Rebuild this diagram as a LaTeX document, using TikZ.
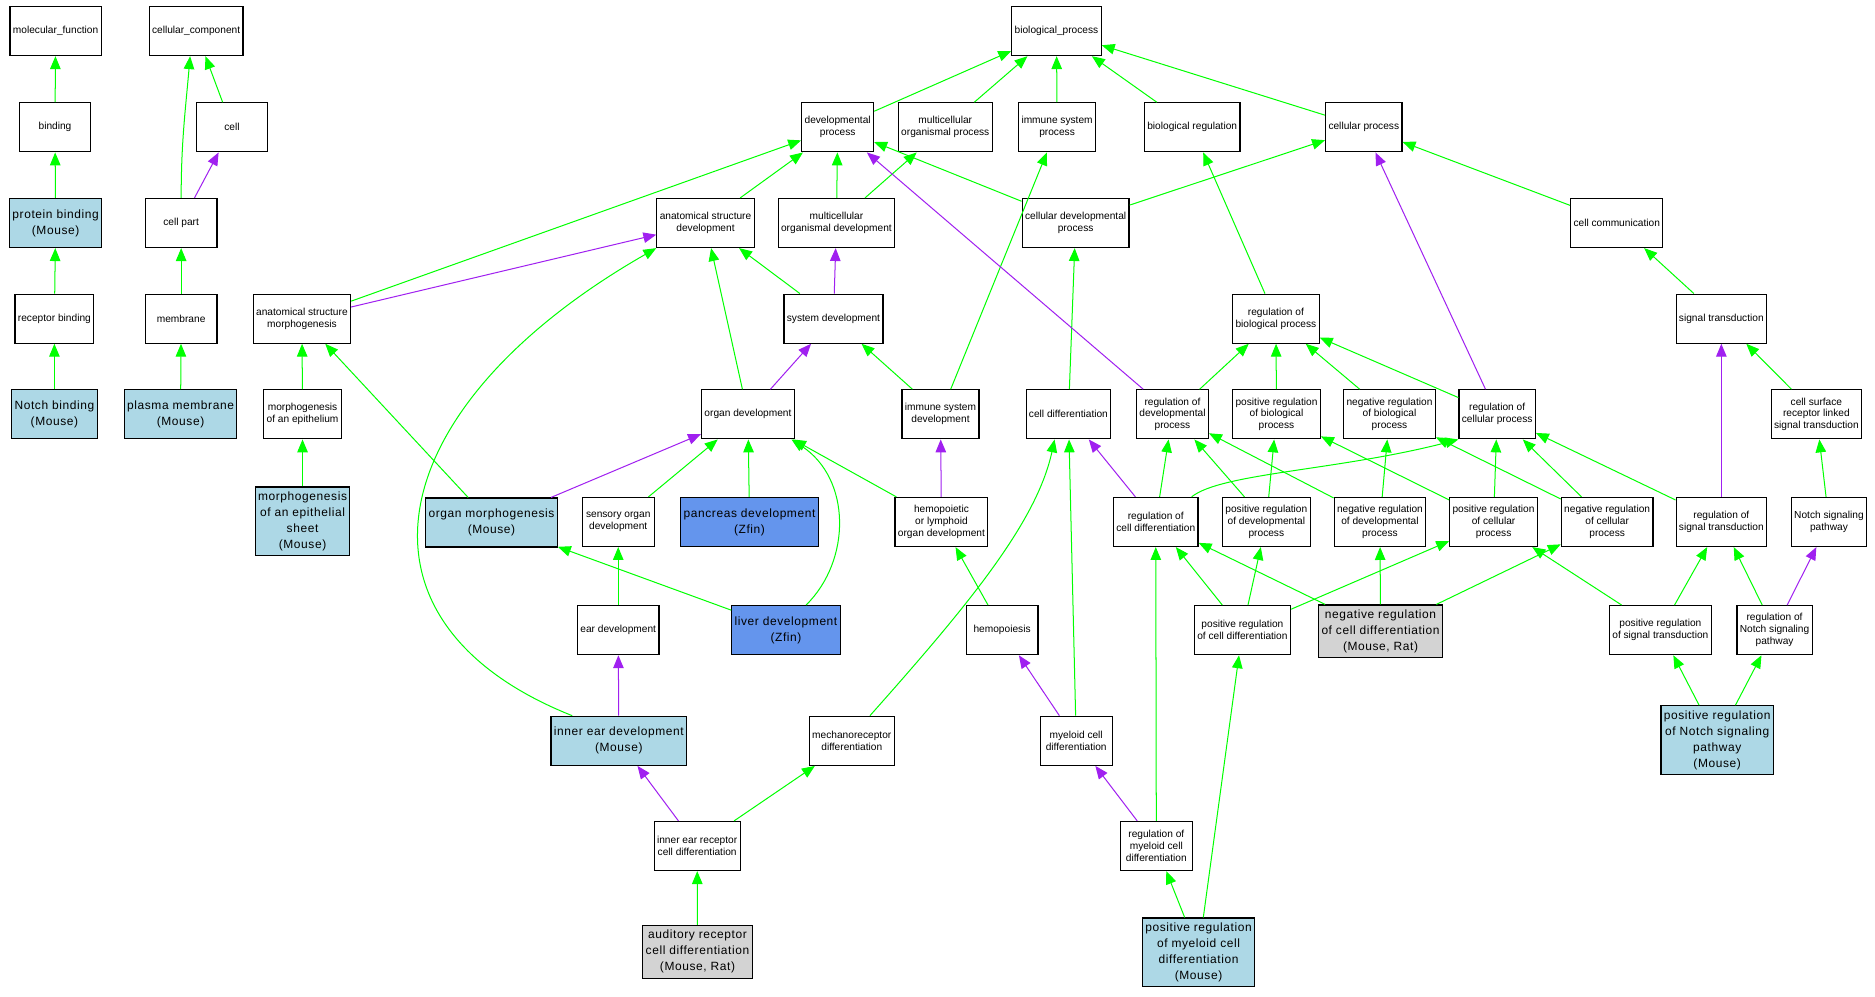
\documentclass[tikz,border=0pt]{standalone}
\usepackage{fontspec}
\setmainfont{Liberation Sans}
\newfontfamily\annfont[LetterSpace=5]{Liberation Sans}
\usetikzlibrary{arrows.meta}
\definecolor{isagreen}{rgb}{0,1,0}
\definecolor{partpurple}{RGB}{160,32,240}
\definecolor{mouseblue}{RGB}{173,216,230}
\definecolor{zfinblue}{RGB}{100,149,237}
\definecolor{ratgrey}{RGB}{211,211,211}

\begin{document}
\begin{tikzpicture}[x=0.5pt,y=-0.5pt,->,>={Triangle[length=5.4pt,width=4.4pt]},line width=0.42pt]
  \tikzstyle{term}=[rectangle,draw=black,line width=0.5pt,fill=white,align=center,inner xsep=1.2pt,inner ysep=1pt,minimum width=30pt,minimum height=20.5pt,font=\fontsize{4.25}{5}\selectfont]
  \tikzstyle{mouse}=[term,fill=mouseblue,inner ysep=2pt,font=\annfont\fontsize{5}{6.7}\selectfont]
  \tikzstyle{zfin}=[mouse,fill=zfinblue]
  \tikzstyle{mouserat}=[mouse,fill=ratgrey]
  \tikzstyle{isa}=[draw=isagreen]
  \tikzstyle{partof}=[draw=partpurple]
  \fill[white] (0,0) rectangle (1568,833);
  % row 0
  \node[term]     (MF) at (46.5, 26)     {molecular\_function};
  \node[term]     (CC) at (164, 26)      {cellular\_component};
  \node[term]     (BP) at (883.5, 26)    {biological\_process};
  % row 1
  \node[term]     (bind) at (46, 106.5)   {binding};
  \node[term]     (cell) at (194, 106.5)  {cell};
  \node[term]     (devp) at (700.5, 106.5) {developmental\\process};
  \node[term]     (mop) at (790.5, 106.5)  {multicellular\\organismal process};
  \node[term]     (isp) at (884, 106.5)    {immune system\\process};
  \node[term]     (breg) at (997, 106.5)   {biological regulation};
  \node[term]     (cellp) at (1140.5, 106.5) {cellular process};
  % row 2
  \node[mouse]    (pbind) at (46.5, 186.5) {protein binding\\(Mouse)};
  \node[term]     (cpart) at (151.5, 186.5) {cell part};
  \node[term]     (asd) at (590, 186.5)    {anatomical structure\\development};
  \node[term]     (mod) at (699.5, 186.5)  {multicellular\\organismal development};
  \node[term]     (cdp) at (899.5, 186.5)  {cellular developmental\\process};
  \node[term]     (ccom) at (1352, 186.5)  {cell communication};
  % row 3
  \node[term]     (rbind) at (45.5, 266.5) {receptor binding};
  \node[term]     (memb) at (151.5, 266.5) {membrane};
  \node[term]     (asm) at (252.5, 266.5)  {anatomical structure\\morphogenesis};
  \node[term]     (sysd) at (697, 266.5)   {system development};
  \node[term]     (rbp) at (1067, 266.5)   {regulation of\\biological process};
  \node[term]     (sigt) at (1439.5, 266.5) {signal transduction};
  % row 4
  \node[mouse]    (nbind) at (45.5, 346.5) {Notch binding\\(Mouse)};
  \node[mouse]    (pmem) at (151, 346.5)   {plasma membrane\\(Mouse)};
  \node[term]     (moe) at (253, 346.5)    {morphogenesis\\of an epithelium};
  \node[term]     (orgd) at (625.5, 346.5) {organ development};
  \node[term]     (isd) at (786.5, 346.5)  {immune system\\development};
  \node[term]     (celld) at (893.5, 346.5) {cell differentiation};
  \node[term]     (rdp) at (980.5, 346.5)  {regulation of\\developmental\\process};
  \node[term]     (prbp) at (1067.5, 346.5) {positive regulation\\of biological\\process};
  \node[term]     (nrbp) at (1162, 346.5)  {negative regulation\\of biological\\process};
  \node[term]     (rcp) at (1252, 346.5)   {regulation of\\cellular process};
  \node[term]     (csr) at (1519, 346.5)   {cell surface\\receptor linked\\signal transduction};
  % row 5
  \node[mouse]    (mes) at (253, 436)      {morphogenesis\\of an epithelial\\sheet\\(Mouse)};
  \node[mouse]    (omor) at (411, 437)     {organ morphogenesis\\(Mouse)};
  \node[term]     (sod) at (517, 436.5)    {sensory organ\\development};
  \node[zfin]     (panc) at (626.8, 436.5) {pancreas development\\(Zfin)};
  \node[term]     (hlod) at (787.3, 436.5) {hemopoietic\\or lymphoid\\organ development};
  \node[term]     (rcd) at (966.5, 436.5)  {regulation of\\cell differentiation};
  \node[term]     (prdp) at (1059, 436.5)  {positive regulation\\of developmental\\process};
  \node[term]     (nrdp) at (1154, 436.5)  {negative regulation\\of developmental\\process};
  \node[term]     (prcp) at (1249, 436.5)  {positive regulation\\of cellular\\process};
  \node[term]     (nrcp) at (1344, 436.5)  {negative regulation\\of cellular\\process};
  \node[term]     (rst) at (1439.5, 436.5) {regulation of\\signal transduction};
  \node[term]     (nsp) at (1529.5, 436.5) {Notch signaling\\pathway};
  % row 6
  \node[term]     (eard) at (517, 527)     {ear development};
  \node[zfin]     (liver) at (657.3, 527)  {liver development\\(Zfin)};
  \node[term]     (hemo) at (838, 527)     {hemopoiesis};
  \node[term]     (prcd) at (1039, 527)    {positive regulation\\of cell differentiation};
  \node[mouserat] (nrcd) at (1154.5, 528)  {negative regulation\\of cell differentiation\\(Mouse, Rat)};
  \node[term]     (prst) at (1388.5, 527)  {positive regulation\\of signal transduction};
  \node[term]     (rnsp) at (1484, 527)    {regulation of\\Notch signaling\\pathway};
  % row 7
  \node[mouse]    (ied) at (517.5, 619.5)  {inner ear development\\(Mouse)};
  \node[term]     (mecd) at (712.3, 619.5) {mechanoreceptor\\differentiation};
  \node[term]     (mycd) at (900, 619.5)   {myeloid cell\\differentiation};
  \node[mouse]    (prnsp) at (1436, 619)   {positive regulation\\of Notch signaling\\pathway\\(Mouse)};
  % row 8
  \node[term]     (iercd) at (583, 707.5)  {inner ear receptor\\cell differentiation};
  \node[term]     (rmcd) at (967, 707.5)   {regulation of\\myeloid cell\\differentiation};
  % row 9
  \node[mouserat] (ardc) at (583.3, 796)   {auditory receptor\\cell differentiation\\(Mouse, Rat)};
  \node[mouse]    (prmcd) at (1002.3, 796.5) {positive regulation\\of myeloid cell\\differentiation\\(Mouse)};
  % molecular function and cellular component
  \path (bind) edge[isa] (MF);
  \path (pbind) edge[isa] (bind);
  \path (rbind) edge[isa] (pbind);
  \path (nbind) edge[isa] (rbind);
  \path (cpart) edge[isa,out=90,in=-95] ([xshift=-2.5pt]CC.south);
  \path (cell) edge[isa] (CC);
  \path (cpart) edge[partof] (cell);
  \path (memb) edge[isa] (cpart);
  \path (pmem) edge[isa] (memb);
  % biological process, upper part
  \path (devp) edge[isa] (BP);
  \path (mop) edge[isa] (BP);
  \path (isp) edge[isa] (BP);
  \path (breg) edge[isa] (BP);
  \path (cellp) edge[isa] (BP);
  \path (asd) edge[isa] (devp);
  \path (mod) edge[isa] (devp);
  \path (mod) edge[isa] (mop);
  \path (cdp) edge[isa] (devp);
  \path (cdp) edge[isa] (cellp);
  \path (asm) edge[isa] (devp);
  \path (asm) edge[partof] (asd);
  \path (sysd) edge[isa] (asd);
  \path (sysd) edge[partof] (mod);
  \path (orgd) edge[isa] (asd);
  \path (orgd) edge[partof] (sysd);
  \path (isd) edge[isa] (sysd);
  \path (isd) edge[isa] (isp);
  \path (celld) edge[isa] (cdp);
  \path (rdp) edge[partof] (devp);
  \path (rdp) edge[isa] (rbp);
  \path (rbp) edge[isa] (breg);
  \path (prbp) edge[isa] (rbp);
  \path (nrbp) edge[isa] (rbp);
  \path (rcp) edge[isa] (rbp);
  \path (rcp) edge[partof] (cellp);
  \path (ccom) edge[isa] (cellp);
  \path (sigt) edge[isa] (ccom);
  \path (csr) edge[isa] (sigt);
  % development
  \path (moe) edge[isa] (asm);
  \path (mes) edge[isa] (moe);
  \path (omor) edge[isa] (asm);
  \path (omor) edge[partof] (orgd);
  \path (sod) edge[isa] (orgd);
  \path (panc) edge[isa] (orgd);
  \path (hlod) edge[isa] (orgd);
  \path (hlod) edge[partof] (isd);
  \path (liver) edge[isa] (omor);
  \draw[isa] ([xshift=8.4pt]liver.north) .. controls +(38,-37.5) and +(50,33) .. ([xshift=18.2pt]orgd.south);
  \path (eard) edge[isa] (sod);
  \path (ied) edge[partof] (eard);
  \draw[isa] ([xshift=-19.5pt]ied.north) .. controls +(-198.5,-79) and +(-231.5,132.5) .. (asd.south west);
  \path (iercd) edge[partof] (ied);
  \path (iercd) edge[isa] (mecd);
  \path (ardc) edge[isa] (iercd);
  \draw[isa] ([xshift=7.6pt]mecd.north) .. controls +(80,-90) and +(-15,70) .. ([xshift=-5.8pt]celld.south);
  \path (hemo) edge[isa] (hlod);
  \path (mycd) edge[partof] (hemo);
  \path (mycd) edge[isa] (celld);
  % regulation
  \path (rcd) edge[partof] (celld);
  \path (rcd) edge[isa] (rdp);
  \draw[isa] ([xshift=15pt]rcd.north) .. controls +(25,-20) and +(-100,26) .. (rcp.south west);
  \path (prdp) edge[isa] (rdp);
  \path (prdp) edge[isa] (prbp);
  \path (nrdp) edge[isa] (rdp);
  \path (nrdp) edge[isa] (nrbp);
  \path (prcp) edge[isa] (rcp);
  \path (prcp) edge[isa] (prbp);
  \path (nrcp) edge[isa] (rcp);
  \path (nrcp) edge[isa] (nrbp);
  \path (rst) edge[isa] (rcp);
  \path (rst) edge[partof] (sigt);
  \path (nsp) edge[isa] (csr);
  \path (prcd) edge[isa] (rcd);
  \path (prcd) edge[isa] (prdp);
  \path (prcd) edge[isa] (prcp);
  \path (nrcd) edge[isa] (rcd);
  \path (nrcd) edge[isa] (nrdp);
  \path (nrcd) edge[isa] (nrcp);
  \path (prst) edge[isa] (rst);
  \path (prst) edge[isa] (prcp);
  \path (rnsp) edge[isa] (rst);
  \path (rnsp) edge[partof] (nsp);
  \path (prnsp) edge[isa] (prst);
  \path (prnsp) edge[isa] (rnsp);
  \path (rmcd) edge[partof] (mycd);
  \path (rmcd) edge[isa] (rcd);
  \path (prmcd) edge[isa] (rmcd);
  \path (prmcd) edge[isa] (prcd);
\end{tikzpicture}
\end{document}
